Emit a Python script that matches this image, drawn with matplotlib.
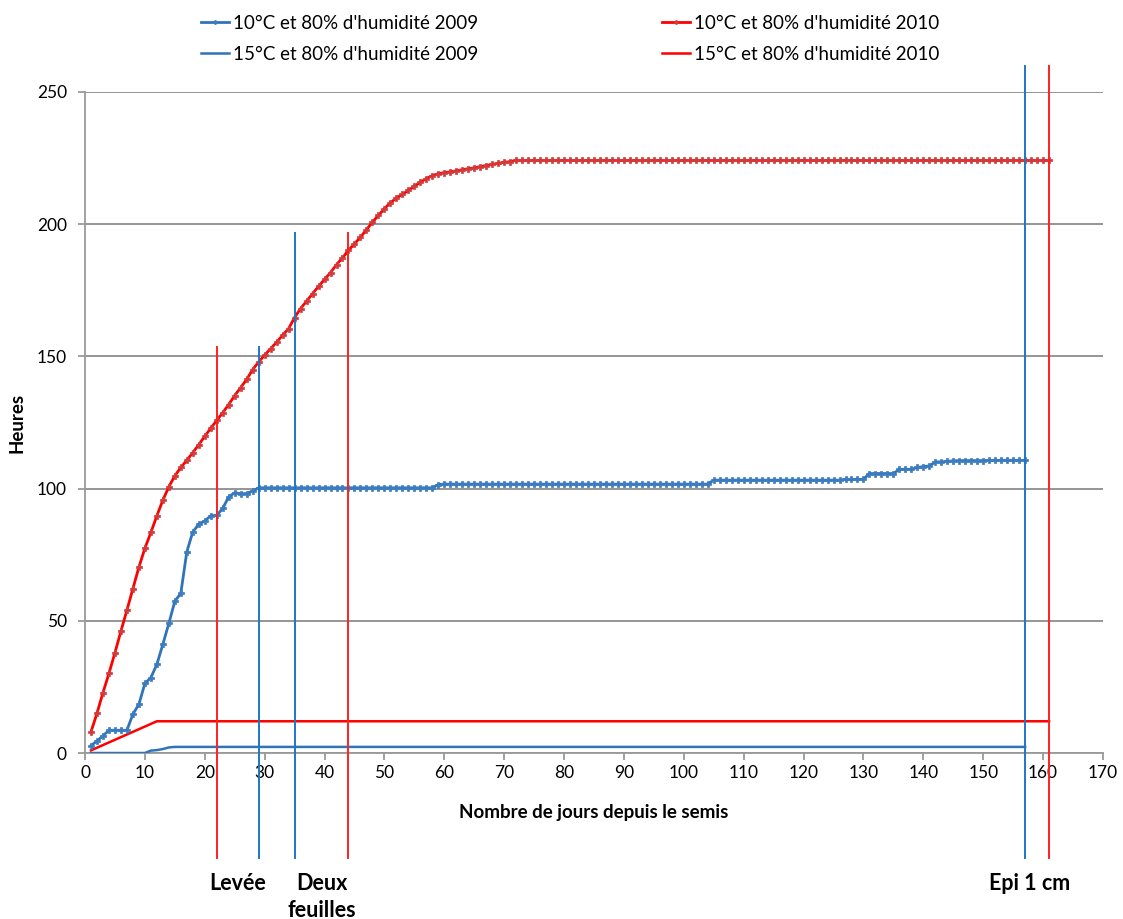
import numpy as np
import matplotlib
matplotlib.use("Agg")
import matplotlib.pyplot as plt

plt.rcParams['font.family'] = ['Lato', 'DejaVu Sans']

# 10°C et 80% d'humidité 2010 (jours 1..161)
red10_vals = [8.0, 15.0, 22.8, 30.1, 37.9, 46.1, 54.0, 62.1, 70.3, 77.4,
              83.4, 89.7, 95.6, 100.7, 104.8, 108.0, 110.7, 113.6, 116.6, 119.8,
              122.8, 125.8, 128.7, 131.8, 135.2, 138.2, 141.3, 145.0, 147.9, 150.5,
              152.9, 155.4, 158.0, 160.5, 164.7, 168.1, 170.9, 173.7, 176.5, 179.1,
              181.7, 184.7, 187.3, 190.1, 192.6, 195.1, 197.9, 200.8, 203.3, 205.9,
              208.1, 209.9, 211.3, 212.8, 214.3, 215.9, 217.2, 218.4, 219.1, 219.5,
              219.8, 220.2, 220.6, 221.0, 221.3, 221.8, 222.2, 222.6, 223.0, 223.4,
              223.7, 224.1] + [224.1] * 89
# 10°C et 80% d'humidité 2009 (jours 1..157)
blue10_vals = ([2.8, 4.5, 6.5, 8.6, 8.6, 8.6, 8.6, 14.7, 18.4, 26.3,
                28.5, 33.5, 41.1, 49.0, 57.4, 60.4, 76.1, 83.6, 86.5, 87.8,
                89.7, 89.9, 92.5, 96.9, 98.4, 98.1, 98.1, 99.1, 100.3]
               + [100.3] * 29 + [101.5] + [101.7] * 45 + [103.2] * 22
               + [103.5] * 4 + [105.7] * 5 + [107.3] * 3
               + [108.0, 108.3, 108.6, 110.1, 110.1, 110.3, 110.5]
               + [110.6] * 5 + [110.7] * 7)
# 15°C et 80% d'humidité 2009 (jours 1..157)
blue15_vals = [0.0] * 10 + [0.9, 1.1, 1.5, 2.1] + [2.3] * 143
# 15°C et 80% d'humidité 2010 (jours 1..161)
red15_vals = [1, 2, 3, 4, 5, 6, 7, 8, 9, 10, 11, 12] + [12] * 149

red_days = np.arange(1, len(red10_vals) + 1)
blue_days = np.arange(1, len(blue10_vals) + 1)

# stades repères
stage_days = [22, 29, 35, 44, 157, 161]
stage_tops = [153.5, 153.5, 196.5, 196.5, 260, 260]
stage_colors = ['#FF2020', '#1F77C4', '#1F77C4', '#FF2020', '#1F77C4', '#FF2020']
stage_bottom = -39.7
stage_labels = ['Levée', 'Deux', 'feuilles', 'Epi 1 cm']
stage_label_x = [25.5, 39.6, 39.6, 157.8]
stage_label_y = [-51.8, -51.8, -62.0, -51.8]

BLUE = '#2F74BA'
RED = '#FF0000'

fig = plt.figure(figsize=(11.23, 9.19), dpi=100)
ax = fig.add_axes([85 / 1123, 1 - 753 / 919, 1018 / 1123, 661 / 919])

l1, = ax.plot(blue_days, blue10_vals, color=BLUE, lw=2.0, marker='P', ms=4.8,
              mfc='#3C7CC0', mec='#3C7CC0', mew=0.5, zorder=4)
l2, = ax.plot(red_days, red10_vals, color=RED, lw=2.0, marker='P', ms=4.8,
              mfc='#D43A3A', mec='#D43A3A', mew=0.5, zorder=4)
l3, = ax.plot(blue_days, blue15_vals, color=BLUE, lw=1.8, zorder=3)
l4, = ax.plot(red_days, red15_vals, color=RED, lw=1.8, zorder=3)

for d, top, c in zip(stage_days, stage_tops, stage_colors):
    ax.plot([d, d], [stage_bottom, top], color=c, lw=1.4, clip_on=False, zorder=5)

ax.set_xlim(0, 170)
ax.set_ylim(0, 250)
ax.set_xticks(np.arange(0, 171, 10))
ax.set_yticks(np.arange(0, 251, 50))
ax.yaxis.grid(True, color='#8C8C8C', lw=1.3)
ax.set_axisbelow(True)
for s in ['top', 'right']:
    ax.spines[s].set_visible(False)
for s in ['left', 'bottom']:
    ax.spines[s].set_color('#9A9A9A')
    ax.spines[s].set_linewidth(1.3)
ax.tick_params(axis='both', colors='#9A9A9A', length=5, width=1.3,
               labelcolor='black', labelsize=12.5)
ax.tick_params(axis='y', pad=8)

ax.set_xlabel('Nombre de jours depuis le semis', fontsize=13.5, fontweight='bold',
              labelpad=17)
ax.set_ylabel('Heures', fontsize=13.5, fontweight='bold', labelpad=8)

for lab, x, y in zip(stage_labels, stage_label_x, stage_label_y):
    ax.text(x, y, lab, ha='center', va='baseline', fontsize=15.5,
            fontweight='bold', zorder=10)

fig.legend([l1, l3, l2, l4],
           ["10°C et 80% d'humidité 2009", "15°C et 80% d'humidité 2009",
            "10°C et 80% d'humidité 2010", "15°C et 80% d'humidité 2010"],
           ncol=2, loc='upper left', bbox_to_anchor=(184 / 1123, 1 + 2 / 919),
           frameon=False, fontsize=13.5, handlelength=1.5, handletextpad=0.2,
           columnspacing=9.8, labelspacing=0.75, markerscale=0.6)

fig.savefig('out.png', dpi=100)
